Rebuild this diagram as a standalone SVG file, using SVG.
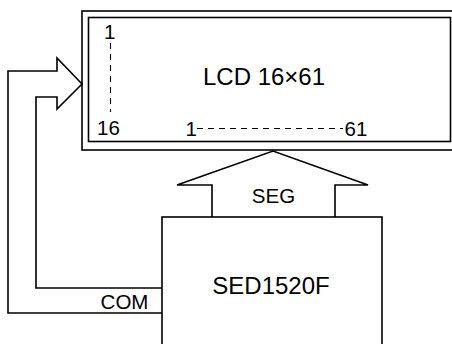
<svg xmlns="http://www.w3.org/2000/svg" width="452" height="344" viewBox="0 0 452 344">
<style>
.s{fill:none;stroke:#000;stroke-width:1.6}
.f{fill:#fff;stroke:#000;stroke-width:1.6}
.d{fill:none;stroke:#000;stroke-width:1.1;stroke-dasharray:6 5}
text{font-family:"Liberation Sans",Arial,sans-serif;fill:#000}
.b{font-size:24px;text-anchor:middle}
.m{font-size:20.5px}
</style>
<rect width="452" height="344" fill="#fff"/>
<g id="lcd">
<rect class="f" x="82" y="11" width="372" height="139"/>
<rect class="s" x="88.5" y="17.5" width="362" height="124"/>
<text class="b" x="264" y="85">LCD 16×61</text>
<text class="m" x="104" y="39">1</text>
<line class="d" x1="110.5" y1="43" x2="110.5" y2="112"/>
<text class="m" x="97" y="135">16</text>
<text class="m" x="185.5" y="136">1</text>
<line class="d" x1="197" y1="128.5" x2="343" y2="128.5"/>
<text class="m" x="344.5" y="136">61</text>
</g>
<g id="chip">
<rect class="f" x="162" y="217" width="220" height="140"/>
<text class="b" x="271" y="294">SED1520F</text>
</g>
<g id="connectors">
<g id="seg">
<polyline class="s" points="212,217 212,185 177,185 273,151 368,185 335,185 335,217"/>
<text class="m" x="273.5" y="203" text-anchor="middle">SEG</text>
</g>
<g id="com">
<polyline class="s" points="162,313 8,313 8,71 57,71 57,58 82,84 57,109 57,97 36,97 36,288 162,288"/>
<text class="m" x="124.5" y="309" text-anchor="middle">COM</text>
</g>
</g>
</svg>
